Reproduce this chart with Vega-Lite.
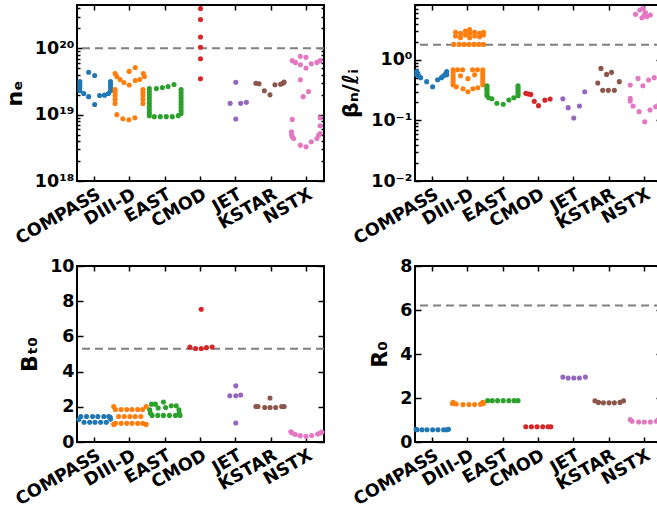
{
  "$schema": "https://vega.github.io/schema/vega-lite/v6.json",
  "padding": {"left": 2, "top": 3, "right": 0, "bottom": 0},
  "columns": 2,
  "spacing": {"row": 7, "column": 12},
  "config": {
    "font": "DejaVu Sans",
    "view": {"stroke": "black", "strokeWidth": 2},
    "axis": {"domain": false, "grid": false, "labelFont": "DejaVu Sans", "labelFontSize": 17.5, "labelFontWeight": "bold", "labelColor": "black", "titleFont": "DejaVu Sans", "titleFontSize": 22, "titleFontWeight": "bold", "titleColor": "black", "tickColor": "black", "tickWidth": 1.5, "tickSize": -5, "labelPadding": 9, "titlePadding": 8}
  },
  "datasets": {
    "ne": [
      {"d":"COMPASS","o":-0.42,"v":3.16e19},{"d":"COMPASS","o":-0.42,"v":2.85e19},{"d":"COMPASS","o":-0.42,"v":2.56e19},{"d":"COMPASS","o":-0.42,"v":2.30e19},{"d":"COMPASS","o":-0.31,"v":2.08e19},{"d":"COMPASS","o":-0.17,"v":1.87e19},{"d":"COMPASS","o":-0.17,"v":4.35e19},{"d":"COMPASS","o":0,"v":3.9e19},{"d":"COMPASS","o":0,"v":1.42e19},{"d":"COMPASS","o":0.14,"v":1.94e19},{"d":"COMPASS","o":0.28,"v":1.97e19},{"d":"COMPASS","o":0.39,"v":2.08e19},{"d":"COMPASS","o":0.45,"v":3.16e19},{"d":"COMPASS","o":0.45,"v":2.85e19},{"d":"COMPASS","o":0.45,"v":2.56e19},{"d":"COMPASS","o":0.45,"v":2.30e19},
      {"d":"DIII-D","o":-0.42,"v":4.18e19},{"d":"DIII-D","o":-0.37,"v":3.77e19},{"d":"DIII-D","o":-0.28,"v":3.39e19},{"d":"DIII-D","o":-0.17,"v":3.05e19},{"d":"DIII-D","o":-0.02,"v":2.8e19},{"d":"DIII-D","o":-0.02,"v":4.49e19},{"d":"DIII-D","o":0.15,"v":5.15e19},{"d":"DIII-D","o":0.15,"v":3.27e19},{"d":"DIII-D","o":0.28,"v":3.39e19},{"d":"DIII-D","o":0.38,"v":4.18e19},{"d":"DIII-D","o":0.41,"v":3.77e19},
      {"d":"DIII-D","o":-0.42,"v":2.39e19},{"d":"DIII-D","o":-0.42,"v":2.15e19},{"d":"DIII-D","o":-0.42,"v":1.94e19},{"d":"DIII-D","o":-0.42,"v":1.69e19},{"d":"DIII-D","o":-0.42,"v":1.47e19},
      {"d":"DIII-D","o":0.37,"v":2.39e19},{"d":"DIII-D","o":0.37,"v":2.15e19},{"d":"DIII-D","o":0.37,"v":1.94e19},{"d":"DIII-D","o":0.37,"v":1.69e19},{"d":"DIII-D","o":0.37,"v":1.47e19},
      {"d":"DIII-D","o":-0.37,"v":1.0e19},{"d":"DIII-D","o":-0.2,"v":8.7e18},{"d":"DIII-D","o":-0.03,"v":8.4e18},{"d":"DIII-D","o":0.14,"v":9.0e18},
      {"d":"EAST","o":-0.45,"v":2.48e19},{"d":"EAST","o":-0.45,"v":2.23e19},{"d":"EAST","o":-0.45,"v":2.01e19},{"d":"EAST","o":-0.45,"v":1.81e19},{"d":"EAST","o":-0.45,"v":1.63e19},{"d":"EAST","o":-0.45,"v":1.47e19},{"d":"EAST","o":-0.45,"v":1.32e19},{"d":"EAST","o":-0.45,"v":1.19e19},{"d":"EAST","o":-0.45,"v":1.07e19},{"d":"EAST","o":-0.45,"v":9.66e18},
      {"d":"EAST","o":-0.25,"v":2.48e19},{"d":"EAST","o":-0.08,"v":2.57e19},{"d":"EAST","o":0.08,"v":2.66e19},{"d":"EAST","o":0.25,"v":2.85e19},
      {"d":"EAST","o":0.45,"v":2.39e19},{"d":"EAST","o":0.45,"v":2.15e19},{"d":"EAST","o":0.45,"v":1.94e19},{"d":"EAST","o":0.45,"v":1.75e19},{"d":"EAST","o":0.45,"v":1.57e19},{"d":"EAST","o":0.45,"v":1.42e19},{"d":"EAST","o":0.45,"v":1.28e19},{"d":"EAST","o":0.45,"v":1.15e19},{"d":"EAST","o":0.45,"v":1.04e19},
      {"d":"EAST","o":-0.31,"v":9.33e18},{"d":"EAST","o":-0.14,"v":9.33e18},{"d":"EAST","o":0.03,"v":9.33e18},{"d":"EAST","o":0.2,"v":9.33e18},{"d":"EAST","o":0.37,"v":9.66e18},
      {"d":"CMOD","o":0,"v":3.99e20},{"d":"CMOD","o":0,"v":2.72e20},{"d":"CMOD","o":0,"v":1.48e20},{"d":"CMOD","o":0,"v":1.04e20},{"d":"CMOD","o":0,"v":6.98e19},{"d":"CMOD","o":0,"v":3.48e19},
      {"d":"JET","o":0,"v":3.08e19},{"d":"JET","o":-0.16,"v":1.48e19},{"d":"JET","o":0.14,"v":1.48e19},{"d":"JET","o":0.30,"v":1.54e19},{"d":"JET","o":0,"v":8.6e18},
      {"d":"KSTAR","o":-0.43,"v":2.98e19},{"d":"KSTAR","o":-0.34,"v":2.93e19},{"d":"KSTAR","o":-0.19,"v":2.29e19},{"d":"KSTAR","o":-0.03,"v":1.99e19},{"d":"KSTAR","o":0.11,"v":2.82e19},{"d":"KSTAR","o":0.27,"v":2.88e19},{"d":"KSTAR","o":0.32,"v":2.95e19},{"d":"KSTAR","o":0.37,"v":3.09e19},
      {"d":"NSTX","o":-0.40,"v":6.52e19},{"d":"NSTX","o":-0.31,"v":6.14e19},{"d":"NSTX","o":-0.17,"v":7.57e19},{"d":"NSTX","o":-0.01,"v":7.31e19},{"d":"NSTX","o":-0.17,"v":5.66e19},{"d":"NSTX","o":-0.01,"v":5.04e19},{"d":"NSTX","o":0.14,"v":5.86e19},{"d":"NSTX","o":0.30,"v":6.14e19},{"d":"NSTX","o":0.39,"v":6.52e19},{"d":"NSTX","o":-0.17,"v":3.36e19},{"d":"NSTX","o":0.06,"v":2.23e19},{"d":"NSTX","o":-0.09,"v":1.87e19},
      {"d":"NSTX","o":-0.40,"v":8.49e18},{"d":"NSTX","o":-0.42,"v":5.52e18},{"d":"NSTX","o":-0.42,"v":5.03e18},{"d":"NSTX","o":-0.40,"v":4.64e18},{"d":"NSTX","o":-0.36,"v":4.38e18},{"d":"NSTX","o":-0.17,"v":3.47e18},{"d":"NSTX","o":-0.01,"v":3.27e18},{"d":"NSTX","o":0.14,"v":3.9e18},{"d":"NSTX","o":0.30,"v":4.38e18},{"d":"NSTX","o":0.35,"v":4.92e18},{"d":"NSTX","o":0.39,"v":5.21e18},{"d":"NSTX","o":0.39,"v":6.81e18},{"d":"NSTX","o":0.39,"v":9.0e18}
    ],
    "beta": [
      {"d":"COMPASS","o":-0.45,"v":0.641},{"d":"COMPASS","o":-0.45,"v":0.571},{"d":"COMPASS","o":-0.42,"v":0.594},{"d":"COMPASS","o":-0.40,"v":0.55},{"d":"COMPASS","o":-0.34,"v":0.51},{"d":"COMPASS","o":-0.17,"v":0.438},{"d":"COMPASS","o":0,"v":0.362},{"d":"COMPASS","o":0.14,"v":0.472},{"d":"COMPASS","o":0.25,"v":0.51},{"d":"COMPASS","o":0.31,"v":0.55},{"d":"COMPASS","o":0.37,"v":0.594},{"d":"COMPASS","o":0.40,"v":0.641},{"d":"COMPASS","o":0.40,"v":0.571},
      {"d":"DIII-D","o":-0.40,"v":1.81},{"d":"DIII-D","o":-0.25,"v":1.81},{"d":"DIII-D","o":-0.11,"v":1.81},{"d":"DIII-D","o":0.03,"v":1.81},{"d":"DIII-D","o":0.17,"v":1.81},{"d":"DIII-D","o":0.31,"v":1.81},{"d":"DIII-D","o":0.44,"v":1.81},
      {"d":"DIII-D","o":-0.35,"v":2.86},{"d":"DIII-D","o":-0.35,"v":2.49},{"d":"DIII-D","o":-0.21,"v":2.75},{"d":"DIII-D","o":-0.21,"v":2.34},{"d":"DIII-D","o":-0.07,"v":3.02},{"d":"DIII-D","o":-0.07,"v":2.59},{"d":"DIII-D","o":0.05,"v":3.17},{"d":"DIII-D","o":0.05,"v":2.75},{"d":"DIII-D","o":0.05,"v":2.34},{"d":"DIII-D","o":0.19,"v":2.86},{"d":"DIII-D","o":0.19,"v":2.49},{"d":"DIII-D","o":0.33,"v":2.75},{"d":"DIII-D","o":0.33,"v":2.43},{"d":"DIII-D","o":0.44,"v":2.86},{"d":"DIII-D","o":0.44,"v":2.59},
      {"d":"DIII-D","o":-0.42,"v":0.691},{"d":"DIII-D","o":-0.42,"v":0.617},{"d":"DIII-D","o":-0.42,"v":0.55},{"d":"DIII-D","o":-0.42,"v":0.491},{"d":"DIII-D","o":-0.42,"v":0.438},{"d":"DIII-D","o":-0.42,"v":0.391},
      {"d":"DIII-D","o":-0.29,"v":0.691},{"d":"DIII-D","o":-0.15,"v":0.691},{"d":"DIII-D","o":0.13,"v":0.691},{"d":"DIII-D","o":0.27,"v":0.691},
      {"d":"DIII-D","o":0.42,"v":0.691},{"d":"DIII-D","o":0.42,"v":0.617},{"d":"DIII-D","o":0.42,"v":0.55},{"d":"DIII-D","o":0.42,"v":0.491},{"d":"DIII-D","o":0.42,"v":0.438},{"d":"DIII-D","o":0.42,"v":0.391},
      {"d":"DIII-D","o":-0.21,"v":0.55},{"d":"DIII-D","o":0,"v":0.491},{"d":"DIII-D","o":0.19,"v":0.571},
      {"d":"DIII-D","o":-0.33,"v":0.362},{"d":"DIII-D","o":-0.14,"v":0.335},{"d":"DIII-D","o":0,"v":0.299},{"d":"DIII-D","o":0.14,"v":0.335},{"d":"DIII-D","o":0.28,"v":0.348},
      {"d":"EAST","o":-0.46,"v":0.376},{"d":"EAST","o":-0.46,"v":0.348},{"d":"EAST","o":-0.46,"v":0.323},{"d":"EAST","o":-0.46,"v":0.299},{"d":"EAST","o":-0.46,"v":0.277},{"d":"EAST","o":-0.46,"v":0.257},{"d":"EAST","o":-0.41,"v":0.237},{"d":"EAST","o":-0.32,"v":0.229},{"d":"EAST","o":-0.18,"v":0.193},{"d":"EAST","o":0,"v":0.186},{"d":"EAST","o":0.16,"v":0.218},{"d":"EAST","o":0.30,"v":0.238},{"d":"EAST","o":0.42,"v":0.257},{"d":"EAST","o":0.42,"v":0.277},{"d":"EAST","o":0.42,"v":0.299},{"d":"EAST","o":0.42,"v":0.323},{"d":"EAST","o":0.42,"v":0.348},{"d":"EAST","o":0.42,"v":0.376},
      {"d":"CMOD","o":-0.36,"v":0.281},{"d":"CMOD","o":-0.28,"v":0.274},{"d":"CMOD","o":-0.22,"v":0.27},{"d":"CMOD","o":-0.12,"v":0.207},{"d":"CMOD","o":0,"v":0.176},{"d":"CMOD","o":0.18,"v":0.217},{"d":"CMOD","o":0.33,"v":0.227},
      {"d":"JET","o":-0.31,"v":0.229},{"d":"JET","o":-0.16,"v":0.163},{"d":"JET","o":0,"v":0.11},{"d":"JET","o":0.16,"v":0.174},{"d":"JET","o":0.31,"v":0.299},
      {"d":"KSTAR","o":-0.23,"v":0.726},{"d":"KSTAR","o":-0.07,"v":0.578},{"d":"KSTAR","o":0.07,"v":0.624},{"d":"KSTAR","o":-0.32,"v":0.417},{"d":"KSTAR","o":-0.18,"v":0.315},{"d":"KSTAR","o":-0.02,"v":0.315},{"d":"KSTAR","o":0.15,"v":0.315},{"d":"KSTAR","o":0.29,"v":0.438},
      {"d":"NSTX","o":-0.25,"v":5.67},{"d":"NSTX","o":-0.13,"v":6.7},{"d":"NSTX","o":-0.04,"v":7.13},{"d":"NSTX","o":0,"v":5.55},{"d":"NSTX","o":0.07,"v":5.2},{"d":"NSTX","o":0.17,"v":5.55},{"d":"NSTX","o":-0.07,"v":5.0},{"d":"NSTX","o":0.03,"v":6.1},
      {"d":"NSTX","o":-0.40,"v":0.386},{"d":"NSTX","o":-0.40,"v":0.232},{"d":"NSTX","o":-0.40,"v":0.21},{"d":"NSTX","o":-0.32,"v":0.174},{"d":"NSTX","o":-0.15,"v":0.14},{"d":"NSTX","o":0.01,"v":0.0955},{"d":"NSTX","o":0.16,"v":0.149},{"d":"NSTX","o":0.32,"v":0.169},{"d":"NSTX","o":0.41,"v":0.18},{"d":"NSTX","o":0.43,"v":0.232},{"d":"NSTX","o":0.43,"v":0.30},{"d":"NSTX","o":-0.18,"v":0.496},{"d":"NSTX","o":-0.04,"v":0.376},{"d":"NSTX","o":0.12,"v":0.467},{"d":"NSTX","o":0.28,"v":0.51}
    ],
    "bt": [
      {"d":"COMPASS","o":-0.39,"v":1.45},{"d":"COMPASS","o":-0.23,"v":1.45},{"d":"COMPASS","o":-0.06,"v":1.45},{"d":"COMPASS","o":0.09,"v":1.45},{"d":"COMPASS","o":0.26,"v":1.45},{"d":"COMPASS","o":0.40,"v":1.45},
      {"d":"COMPASS","o":-0.30,"v":1.12},{"d":"COMPASS","o":-0.14,"v":1.12},{"d":"COMPASS","o":0.01,"v":1.12},{"d":"COMPASS","o":0.17,"v":1.12},{"d":"COMPASS","o":0.33,"v":1.12},
      {"d":"COMPASS","o":-0.45,"v":1.28},{"d":"COMPASS","o":0.45,"v":1.3},{"d":"COMPASS","o":0.44,"v":1.4},
      {"d":"DIII-D","o":-0.41,"v":1.85},{"d":"DIII-D","o":-0.25,"v":1.85},{"d":"DIII-D","o":-0.09,"v":1.85},{"d":"DIII-D","o":0.06,"v":1.85},{"d":"DIII-D","o":0.22,"v":1.85},{"d":"DIII-D","o":0.36,"v":1.85},
      {"d":"DIII-D","o":-0.32,"v":1.45},{"d":"DIII-D","o":-0.16,"v":1.45},{"d":"DIII-D","o":0,"v":1.45},{"d":"DIII-D","o":0.15,"v":1.45},{"d":"DIII-D","o":0.31,"v":1.45},
      {"d":"DIII-D","o":-0.41,"v":1.06},{"d":"DIII-D","o":-0.25,"v":1.06},{"d":"DIII-D","o":-0.09,"v":1.06},{"d":"DIII-D","o":0.06,"v":1.06},{"d":"DIII-D","o":0.22,"v":1.06},{"d":"DIII-D","o":0.36,"v":1.06},
      {"d":"DIII-D","o":-0.46,"v":2.02},{"d":"DIII-D","o":-0.46,"v":1.0},{"d":"DIII-D","o":0.46,"v":2.02},{"d":"DIII-D","o":0.46,"v":1.0},
      {"d":"EAST","o":-0.39,"v":2.15},{"d":"EAST","o":-0.28,"v":2.15},{"d":"EAST","o":-0.05,"v":2.27},{"d":"EAST","o":-0.2,"v":1.93},{"d":"EAST","o":0.01,"v":1.96},{"d":"EAST","o":0.17,"v":2.06},{"d":"EAST","o":0.31,"v":2.06},
      {"d":"EAST","o":-0.37,"v":1.51},{"d":"EAST","o":-0.21,"v":1.51},{"d":"EAST","o":-0.05,"v":1.51},{"d":"EAST","o":0.12,"v":1.51},{"d":"EAST","o":0.29,"v":1.51},
      {"d":"EAST","o":-0.44,"v":1.83},{"d":"EAST","o":-0.42,"v":1.64},{"d":"EAST","o":0.39,"v":1.83},{"d":"EAST","o":0.40,"v":1.64},{"d":"EAST","o":0.42,"v":1.51},
      {"d":"CMOD","o":-0.30,"v":5.39},{"d":"CMOD","o":-0.14,"v":5.31},{"d":"CMOD","o":0.02,"v":5.31},{"d":"CMOD","o":0.17,"v":5.36},{"d":"CMOD","o":0.33,"v":5.40},{"d":"CMOD","o":0.02,"v":7.54},
      {"d":"JET","o":0,"v":3.19},{"d":"JET","o":-0.17,"v":2.63},{"d":"JET","o":0,"v":2.63},{"d":"JET","o":0.14,"v":2.67},{"d":"JET","o":0,"v":1.08},
      {"d":"KSTAR","o":-0.43,"v":2.02},{"d":"KSTAR","o":-0.37,"v":2.02},{"d":"KSTAR","o":-0.18,"v":1.96},{"d":"KSTAR","o":-0.03,"v":1.96},{"d":"KSTAR","o":0.13,"v":1.96},{"d":"KSTAR","o":0.30,"v":2.02},{"d":"KSTAR","o":0.37,"v":2.02},{"d":"KSTAR","o":-0.03,"v":2.5},
      {"d":"NSTX","o":-0.40,"v":0.51},{"d":"NSTX","o":-0.44,"v":0.58},{"d":"NSTX","o":-0.31,"v":0.43},{"d":"NSTX","o":-0.17,"v":0.36},{"d":"NSTX","o":-0.01,"v":0.32},{"d":"NSTX","o":0.15,"v":0.37},{"d":"NSTX","o":0.32,"v":0.45},{"d":"NSTX","o":0.39,"v":0.51},{"d":"NSTX","o":0.44,"v":0.56}
    ],
    "r0": [
      {"d":"COMPASS","o":-0.44,"v":0.56},{"d":"COMPASS","o":-0.30,"v":0.56},{"d":"COMPASS","o":-0.16,"v":0.56},{"d":"COMPASS","o":0,"v":0.56},{"d":"COMPASS","o":0.15,"v":0.56},{"d":"COMPASS","o":0.31,"v":0.56},{"d":"COMPASS","o":0.40,"v":0.56},{"d":"COMPASS","o":-0.47,"v":0.58},{"d":"COMPASS","o":0.45,"v":0.58},
      {"d":"DIII-D","o":-0.42,"v":1.8},{"d":"DIII-D","o":-0.33,"v":1.73},{"d":"DIII-D","o":-0.14,"v":1.7},{"d":"DIII-D","o":0.03,"v":1.7},{"d":"DIII-D","o":0.19,"v":1.7},{"d":"DIII-D","o":0.36,"v":1.72},{"d":"DIII-D","o":0.42,"v":1.8},{"d":"DIII-D","o":-0.44,"v":1.75},{"d":"DIII-D","o":0.44,"v":1.75},
      {"d":"EAST","o":-0.44,"v":1.88},{"d":"EAST","o":-0.31,"v":1.88},{"d":"EAST","o":-0.16,"v":1.88},{"d":"EAST","o":0,"v":1.88},{"d":"EAST","o":0.16,"v":1.88},{"d":"EAST","o":0.31,"v":1.88},{"d":"EAST","o":0.42,"v":1.88},
      {"d":"CMOD","o":-0.36,"v":0.69},{"d":"CMOD","o":-0.2,"v":0.69},{"d":"CMOD","o":-0.04,"v":0.69},{"d":"CMOD","o":0.12,"v":0.69},{"d":"CMOD","o":0.27,"v":0.69},{"d":"CMOD","o":0.35,"v":0.69},
      {"d":"JET","o":-0.31,"v":2.95},{"d":"JET","o":-0.16,"v":2.91},{"d":"JET","o":0,"v":2.91},{"d":"JET","o":0.16,"v":2.91},{"d":"JET","o":0.33,"v":2.95},
      {"d":"KSTAR","o":-0.4,"v":1.87},{"d":"KSTAR","o":-0.3,"v":1.8},{"d":"KSTAR","o":-0.16,"v":1.78},{"d":"KSTAR","o":0,"v":1.78},{"d":"KSTAR","o":0.15,"v":1.78},{"d":"KSTAR","o":0.31,"v":1.8},{"d":"KSTAR","o":0.41,"v":1.87},
      {"d":"NSTX","o":-0.4,"v":1.02},{"d":"NSTX","o":-0.35,"v":0.94},{"d":"NSTX","o":-0.16,"v":0.91},{"d":"NSTX","o":0,"v":0.91},{"d":"NSTX","o":0.17,"v":0.91},{"d":"NSTX","o":0.34,"v":0.94},{"d":"NSTX","o":0.4,"v":1.02},{"d":"NSTX","o":0.45,"v":1.05}
    ]
  },
  "concat": [
    {
      "width": 247, "height": 176,
      "data": {"name": "ne"},
      "layer": [
        {"data": {"values": [{"r": 1e20}]}, "mark": {"type": "rule", "color": "#808080", "strokeWidth": 2, "strokeDash": [8, 5]}, "encoding": {"y": {"field": "r", "type": "quantitative", "axis": null}}},
        {"mark": {"type": "point", "filled": true, "size": 26, "opacity": 1},
         "encoding": {
           "x": {"field": "d", "type": "nominal", "scale": {"domain": ["COMPASS","DIII-D","EAST","CMOD","JET","KSTAR","NSTX"], "paddingInner": 0, "paddingOuter": 0}, "axis": {"title": null, "labelAngle": -30, "labelAlign": "right", "labelBaseline": "top"}},
           "xOffset": {"field": "o", "type": "quantitative", "scale": {"domain": [-0.5, 0.5]}},
           "y": {"field": "v", "type": "quantitative", "scale": {"type": "log", "domain": [1e18, 4.5e20], "nice": false},
                 "axis": {"title": "nₑ", "values": [1e18,2e18,3e18,4e18,5e18,6e18,7e18,8e18,9e18,1e19,2e19,3e19,4e19,5e19,6e19,7e19,8e19,9e19,1e20,2e20,3e20,4e20],
                          "labelExpr": "datum.value == 1e18 ? '10¹⁸' : datum.value == 1e19 ? '10¹⁹' : datum.value == 1e20 ? '10²⁰' : ''",
                          "tickSize": {"condition": {"test": "datum.value == 1e18 || datum.value == 1e19 || datum.value == 1e20", "value": -6}, "value": -3}}},
           "color": {"field": "d", "type": "nominal", "scale": {"domain": ["COMPASS","DIII-D","EAST","CMOD","JET","KSTAR","NSTX"], "range": ["#1f77b4","#ff7f0e","#2ca02c","#d62728","#9467bd","#8c564b","#e377c2"]}, "legend": null}
         }},
        {"mark": {"type": "point", "opacity": 0},
         "encoding": {
           "x": {"field": "d", "type": "nominal", "axis": {"orient": "top", "labels": false, "title": null}},
           "y": {"field": "v", "type": "quantitative", "axis": {"orient": "right", "labels": false, "title": null, "values": [1e18,2e18,3e18,4e18,5e18,6e18,7e18,8e18,9e18,1e19,2e19,3e19,4e19,5e19,6e19,7e19,8e19,9e19,1e20,2e20,3e20,4e20],
             "tickSize": {"condition": {"test": "datum.value == 1e18 || datum.value == 1e19 || datum.value == 1e20", "value": -6}, "value": -3}}}
         }}
      ],
      "resolve": {"axis": {"x": "independent", "y": "independent"}}
    },
    {
      "width": 247, "height": 176,
      "data": {"name": "beta"},
      "layer": [
        {"data": {"values": [{"r": 1.79}]}, "mark": {"type": "rule", "color": "#808080", "strokeWidth": 2, "strokeDash": [8, 5]}, "encoding": {"y": {"field": "r", "type": "quantitative", "axis": null}}},
        {"mark": {"type": "point", "filled": true, "size": 26, "opacity": 1},
         "encoding": {
           "x": {"field": "d", "type": "nominal", "scale": {"domain": ["COMPASS","DIII-D","EAST","CMOD","JET","KSTAR","NSTX"], "paddingInner": 0, "paddingOuter": 0}, "axis": {"title": null, "labelAngle": -30, "labelAlign": "right", "labelBaseline": "top"}},
           "xOffset": {"field": "o", "type": "quantitative", "scale": {"domain": [-0.5, 0.5]}},
           "y": {"field": "v", "type": "quantitative", "scale": {"type": "log", "domain": [0.01, 8.1], "nice": false},
                 "axis": {"title": "βₙ/ℓᵢ", "values": [0.01,0.02,0.03,0.04,0.05,0.06,0.07,0.08,0.09,0.1,0.2,0.3,0.4,0.5,0.6,0.7,0.8,0.9,1,2,3,4,5,6,7,8],
                          "labelExpr": "datum.value == 0.01 ? '10⁻²' : datum.value == 0.1 ? '10⁻¹' : datum.value == 1 ? '10⁰' : ''",
                          "tickSize": {"condition": {"test": "datum.value == 0.01 || datum.value == 0.1 || datum.value == 1", "value": -6}, "value": -3}}},
           "color": {"field": "d", "type": "nominal", "scale": {"domain": ["COMPASS","DIII-D","EAST","CMOD","JET","KSTAR","NSTX"], "range": ["#1f77b4","#ff7f0e","#2ca02c","#d62728","#9467bd","#8c564b","#e377c2"]}, "legend": null}
         }},
        {"mark": {"type": "point", "opacity": 0},
         "encoding": {
           "x": {"field": "d", "type": "nominal", "axis": {"orient": "top", "labels": false, "title": null}},
           "y": {"field": "v", "type": "quantitative", "axis": {"orient": "right", "labels": false, "title": null, "values": [0.01,0.02,0.03,0.04,0.05,0.06,0.07,0.08,0.09,0.1,0.2,0.3,0.4,0.5,0.6,0.7,0.8,0.9,1,2,3,4,5,6,7,8],
             "tickSize": {"condition": {"test": "datum.value == 0.01 || datum.value == 0.1 || datum.value == 1", "value": -6}, "value": -3}}}
         }}
      ],
      "resolve": {"axis": {"x": "independent", "y": "independent"}}
    },
    {
      "width": 247, "height": 176,
      "data": {"name": "bt"},
      "layer": [
        {"data": {"values": [{"r": 5.3}]}, "mark": {"type": "rule", "color": "#808080", "strokeWidth": 2, "strokeDash": [8, 5]}, "encoding": {"y": {"field": "r", "type": "quantitative", "axis": null}}},
        {"mark": {"type": "point", "filled": true, "size": 26, "opacity": 1},
         "encoding": {
           "x": {"field": "d", "type": "nominal", "scale": {"domain": ["COMPASS","DIII-D","EAST","CMOD","JET","KSTAR","NSTX"], "paddingInner": 0, "paddingOuter": 0}, "axis": {"title": null, "labelAngle": -30, "labelAlign": "right", "labelBaseline": "top"}},
           "xOffset": {"field": "o", "type": "quantitative", "scale": {"domain": [-0.5, 0.5]}},
           "y": {"field": "v", "type": "quantitative", "scale": {"domain": [0, 10], "nice": false}, "axis": {"title": "Bₜ₀", "values": [0,2,4,6,8,10], "tickSize": -6}},
           "color": {"field": "d", "type": "nominal", "scale": {"domain": ["COMPASS","DIII-D","EAST","CMOD","JET","KSTAR","NSTX"], "range": ["#1f77b4","#ff7f0e","#2ca02c","#d62728","#9467bd","#8c564b","#e377c2"]}, "legend": null}
         }},
        {"mark": {"type": "point", "opacity": 0},
         "encoding": {
           "x": {"field": "d", "type": "nominal", "axis": {"orient": "top", "labels": false, "title": null}},
           "y": {"field": "v", "type": "quantitative", "axis": {"orient": "right", "labels": false, "title": null, "values": [0,2,4,6,8,10], "tickSize": -6}}
         }}
      ],
      "resolve": {"axis": {"x": "independent", "y": "independent"}}
    },
    {
      "width": 247, "height": 176,
      "data": {"name": "r0"},
      "layer": [
        {"data": {"values": [{"r": 6.2}]}, "mark": {"type": "rule", "color": "#808080", "strokeWidth": 2, "strokeDash": [8, 5]}, "encoding": {"y": {"field": "r", "type": "quantitative", "axis": null}}},
        {"mark": {"type": "point", "filled": true, "size": 26, "opacity": 1},
         "encoding": {
           "x": {"field": "d", "type": "nominal", "scale": {"domain": ["COMPASS","DIII-D","EAST","CMOD","JET","KSTAR","NSTX"], "paddingInner": 0, "paddingOuter": 0}, "axis": {"title": null, "labelAngle": -30, "labelAlign": "right", "labelBaseline": "top"}},
           "xOffset": {"field": "o", "type": "quantitative", "scale": {"domain": [-0.5, 0.5]}},
           "y": {"field": "v", "type": "quantitative", "scale": {"domain": [0, 8], "nice": false}, "axis": {"title": "R₀", "values": [0,2,4,6,8], "tickSize": -6}},
           "color": {"field": "d", "type": "nominal", "scale": {"domain": ["COMPASS","DIII-D","EAST","CMOD","JET","KSTAR","NSTX"], "range": ["#1f77b4","#ff7f0e","#2ca02c","#d62728","#9467bd","#8c564b","#e377c2"]}, "legend": null}
         }},
        {"mark": {"type": "point", "opacity": 0},
         "encoding": {
           "x": {"field": "d", "type": "nominal", "axis": {"orient": "top", "labels": false, "title": null}},
           "y": {"field": "v", "type": "quantitative", "axis": {"orient": "right", "labels": false, "title": null, "values": [0,2,4,6,8], "tickSize": -6}}
         }}
      ],
      "resolve": {"axis": {"x": "independent", "y": "independent"}}
    }
  ]
}
